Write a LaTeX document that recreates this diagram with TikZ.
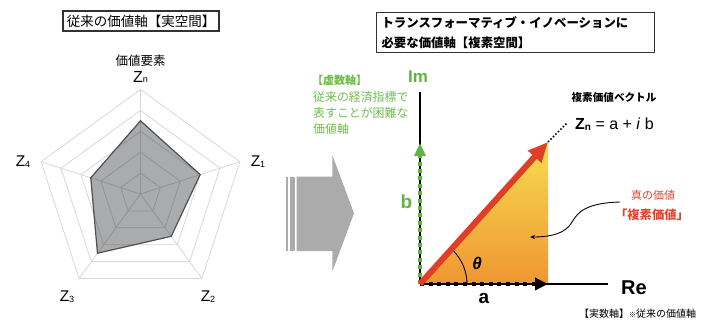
\documentclass[tikz,border=0pt]{standalone}
\usepackage{fontspec}
\setmainfont{Liberation Sans}
\newfontfamily\jp{Noto Sans CJK JP}
\usetikzlibrary{arrows.meta}
\definecolor{gridgray}{RGB}{215,215,215}
\definecolor{datafillc}{RGB}{40,44,48}
\definecolor{dataline}{RGB}{80,80,80}
\definecolor{arrowgray}{RGB}{171,171,171}
\definecolor{mygreen}{RGB}{98,180,64}
\definecolor{txtgreen}{RGB}{110,190,75}
\definecolor{myred}{RGB}{224,62,38}
\definecolor{txtred}{RGB}{229,68,45}
\definecolor{triTop}{RGB}{247,220,80}
\definecolor{triBot}{RGB}{239,150,50}
\definecolor{boxline}{RGB}{50,50,50}
\tikzset{
  gridline/.style={draw=gridgray, line width=0.8pt},
  datapoly/.style={fill=datafillc, fill opacity=0.4, draw=dataline, line width=1.2pt},
  titlebox/.style={draw=boxline, line width=1.1pt, inner sep=0pt},
  zlab/.style={inner sep=0pt, font=\fontsize{15.5}{16}\selectfont},
  axisline/.style={draw=black, line width=1.2pt},
  greendots/.style={draw=mygreen, line width=4.2pt, dash pattern=on 4pt off 3.4pt, -{Triangle[length=13pt,width=11pt]}},
  blackdots/.style={draw=black, line width=4pt, dash pattern=on 4pt off 4.6pt, -{Triangle[length=13pt,width=12pt]}},
  redvec/.style={draw=myred, line width=6pt, -{Triangle[length=20pt,width=17pt]}},
  leader/.style={draw=black, line width=1.5pt, dash pattern=on 1.5pt off 2pt},
  callout/.style={draw=black, line width=0.9pt, -{Stealth[length=5pt,width=4pt]}},
}
\newcommand{\zsub}[1]{\raisebox{-0.8pt}{\fontsize{9}{9}\selectfont #1}}
\begin{document}
\begin{tikzpicture}[x=1pt,y=-1pt]
\useasboundingbox (0,0) rectangle (703,320);

% ---------- left title ----------
\node[titlebox, minimum width=156pt, minimum height=20pt] (lt) at (141,21)
  {\jp\fontsize{13.5}{16}\selectfont 従来の価値軸【実空間】};

% ---------- radar chart ----------
\begin{scope}[shift={(140.5,194)}]
  \foreach \r [evaluate=\r as \rr using \r*20.9] in {1,...,5}
    \draw[gridline] (-90:\rr) -- (-18:\rr) -- (54:\rr) -- (126:\rr) -- (198:\rr) -- cycle;
  \foreach \a in {-90,-18,54,126,198}
    \draw[gridline] (0,0) -- (\a:104.5);
  \draw[datapoly] (-90:73.2) -- (-18:62.7) -- (54:52.3) -- (126:73.2) -- (198:52.3) -- cycle;
\end{scope}
\node[inner sep=0pt] (ve) at (140.5,61) {\jp\fontsize{12.5}{14}\selectfont 価値要素};
\node[zlab, font=\fontsize{16}{17}\selectfont] (zn) at (140.5,77) {Z\zsub{n}};
\node[zlab] (z1) at (258,162) {Z\zsub{1}};
\node[zlab] (z4) at (23,162) {Z\zsub{4}};
\node[zlab] (z3) at (67,297) {Z\zsub{3}};
\node[zlab] (z2) at (208,297) {Z\zsub{2}};

% ---------- gray arrow ----------
\fill[arrowgray] (286,176.7) rectangle (288,251);
\fill[arrowgray] (290,176.7) rectangle (294.7,251);
\fill[arrowgray] (296.7,176.7) -- (332.3,176.7) -- (332.3,155) -- (354,213.3)
  -- (332.3,271.7) -- (332.3,251) -- (296.7,251) -- cycle;

% ---------- right title ----------
\node[titlebox, anchor=north west, text width=268pt, inner xsep=5pt, inner ysep=0pt,
      minimum height=39.4pt, align=left, font=\jp\bfseries\fontsize{12.4}{19.6}\selectfont] (rt) at (376,12.3)
  {トランスフォーマティブ・イノベーションに\\必要な価値軸【複素空間】};

% ---------- complex plane ----------
\coordinate (O) at (420,284);
\coordinate (ImEnd) at (420,92);
\coordinate (ReEnd) at (608,284);
\coordinate (A) at (548,284);
\coordinate (B) at (420,143);
\coordinate (T) at (548,142);
\coordinate (Tdots) at (567,123);

\shade[top color=triTop, bottom color=triBot] (O) -- (A) -- (T) -- cycle;
\draw[axisline] (O) -- (ImEnd);
\draw[axisline] (O) -- (ReEnd);
\draw[greendots] (O) -- (B);
\draw[blackdots] (O) -- (A);
\draw[black, line width=0.9pt] ([xshift=47pt]O) arc[start angle=0, end angle=45, radius=47pt];
\draw[redvec] (O) -- (T);
\draw[leader] (T) -- (Tdots);

\node[inner sep=0pt, text=mygreen, font=\bfseries\fontsize{17}{18}\selectfont] (im) at (418,77) {Im};
\node[inner sep=0pt, text=mygreen, font=\bfseries\fontsize{19}{20}\selectfont] (bl) at (406.5,202) {b};
\node[inner sep=0pt, font=\bfseries\fontsize{20}{21}\selectfont] (re) at (634,288) {Re};
\node[inner sep=0pt, font=\bfseries\fontsize{19}{20}\selectfont] (al) at (484,298) {a};
\node[inner sep=0pt, font=\bfseries\itshape\fontsize{17}{18}\selectfont] (th) at (477,263) {θ};

% green annotation
\node[inner sep=0pt, text=txtgreen] (ka) at (339.5,80) {\jp\bfseries\fontsize{11}{12}\selectfont 【虚数軸】};
\node[inner sep=0pt, anchor=west, align=left, text=txtgreen, font=\jp\fontsize{11.9}{15.6}\selectfont] (kb) at (313,113)
  {従来の経済指標で\\表すことが困難な\\価値軸};

% vector label
\node[inner sep=0pt] (vl) at (614,97) {\jp\bfseries\fontsize{10.6}{12}\selectfont 複素価値ベクトル};
\node[inner sep=0pt, anchor=west] (eq) at (575,124)
  {\fontsize{16}{17}\selectfont\textbf{Z}\raisebox{-1pt}{\textbf{\fontsize{10}{10}\selectfont n}} = a + \textit{i} b};

% red annotation
\node[inner sep=0pt, text=txtred] (sv) at (653,195) {\jp\fontsize{11}{12}\selectfont 真の価値};
\node[inner sep=0pt, text=txtred] (fv) at (652,215) {\jp\bfseries\fontsize{12.3}{13}\selectfont 「複素価値」};
\coordinate (cs) at (620,202);
\coordinate (ce) at (530,237);
\draw[callout] (cs) .. controls (586,203) and (578,212) .. (572,222)
  .. controls (566,233) and (552,237) .. (ce);

% bottom note
\node[inner sep=0pt, anchor=west] (bn) at (579,314) {\jp\fontsize{10}{11}\selectfont 【実数軸】{\fontsize{7}{8}\selectfont ※}従来の価値軸};
\end{tikzpicture}
\end{document}
